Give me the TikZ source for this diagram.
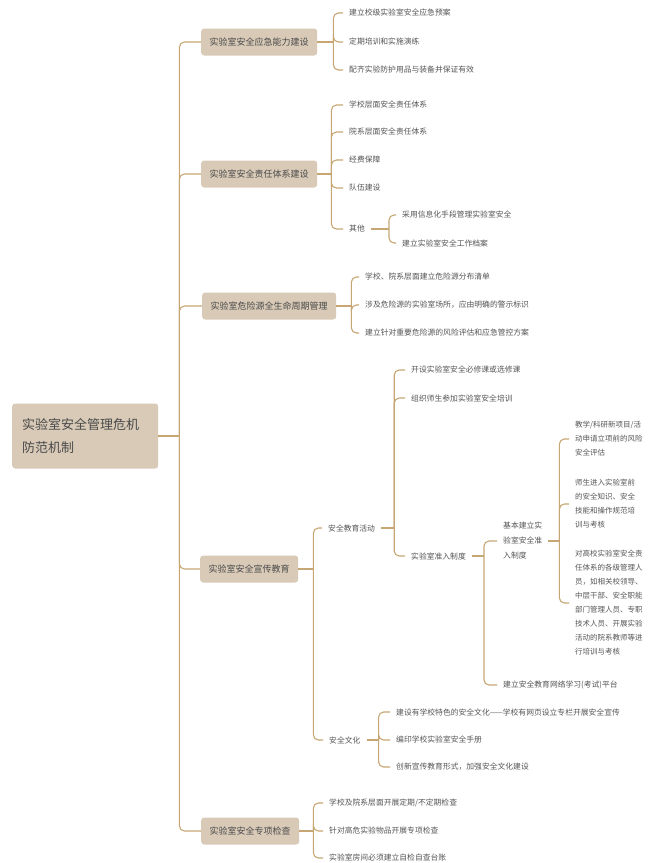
\documentclass[tikz,border=0pt]{standalone}
\usepackage{fontspec}
\setmainfont{Noto Sans CJK SC}
\definecolor{boxfill}{HTML}{D8CAB7}
\definecolor{linec}{HTML}{C6A673}
\definecolor{boxtext}{HTML}{4A4A4A}
\definecolor{leaftext}{HTML}{555555}
\begin{document}
\begin{tikzpicture}[x=1pt,y=-1pt,
  conn/.style={draw=linec,line width=1.1pt},
  bconn/.style={conn,rounded corners=5pt},
  topbox/.style={fill=boxfill,rounded corners=3pt,inner xsep=8.5pt,minimum height=27pt,font=\fontsize{9}{11}\selectfont,text=boxtext,anchor=west},
  leaf/.style={inner xsep=6pt,inner ysep=1pt,anchor=west,font=\fontsize{7.8}{14}\selectfont,text=leaftext,align=left},
  leafb/.style={leaf,font=\fontsize{7.8}{15}\selectfont},
  leafs/.style={leaf,font=\fontsize{7.5}{14}\selectfont}
]
\useasboundingbox (0,0) rectangle (656,863);

% root
\node[fill=boxfill,rounded corners=3pt,anchor=west,text width=126pt,inner xsep=10pt,minimum height=65pt,align=left,font=\fontsize{13}{23}\selectfont,text=boxtext] (root) at (12,436) {实验室安全管理危机\\防范机制};

% level 1
\node[topbox] (b1) at (201,42) {实验室安全应急能力建设};
\node[topbox] (b2) at (201,174) {实验室安全责任体系建设};
\node[topbox] (b3) at (202,306) {实验室危险源全生命周期管理};
\node[topbox] (b4) at (200,569) {实验室安全宣传教育};
\node[topbox] (b5) at (201,831) {实验室安全专项检查};

\draw[conn] (root.east) -- ++(21,0) coordinate (k0);
\foreach \b in {b1,b2,b3,b4,b5} \draw[bconn] (k0) |- (\b.west);

% branch 1
\node[leaf] (c11) at (343,13) {建立校级实验室安全应急预案};
\node[leaf] (c12) at (343,42) {定期培训和实施演练};
\node[leaf] (c13) at (343,70) {配齐实验防护用品与装备并保证有效};
\draw[conn] (b1.east) -- ++(16,0) coordinate (k1);
\foreach \c in {c11,c12,c13} \draw[bconn] (k1) |- (\c.west);

% branch 2
\node[leaf] (c21) at (343,105) {学校层面安全责任体系};
\node[leaf] (c22) at (343,132) {院系层面安全责任体系};
\node[leaf] (c23) at (343,160) {经费保障};
\node[leaf] (c24) at (343,188) {队伍建设};
\node[leaf] (c25) at (343,229) {其他};
\draw[conn] (b2.east) -- ++(14,0) coordinate (k2);
\foreach \c in {c21,c22,c23,c24,c25} \draw[bconn] (k2) |- (\c.west);

\node[leaf] (d1) at (396,215) {采用信息化手段管理实验室安全};
\node[leaf] (d2) at (396,243) {建立实验室安全工作档案};
\draw[conn] (c25.east) -- ++(18,0) coordinate (k25);
\foreach \c in {d1,d2} \draw[bconn] (k25) |- (\c.west);

% branch 3
\node[leaf] (c31) at (359,277) {学校、院系层面建立危险源分布清单};
\node[leaf] (c32) at (359,305) {涉及危险源的实验室场所，应由明确的警示标识};
\node[leaf] (c33) at (359,333) {建立针对重要危险源的风险评估和应急管控方案};
\draw[conn] (b3.east) -- ++(15,0) coordinate (k3);
\foreach \c in {c31,c32,c33} \draw[bconn] (k3) |- (\c.west);

% branch 4
\node[leaf] (e1) at (322,528) {安全教育活动};
\node[leaf] (e2) at (323,740) {安全文化};
\draw[conn] (b4.east) -- ++(15,0) coordinate (k4);
\foreach \c in {e1,e2} \draw[bconn] (k4) |- (\c.west);

\node[leaf] (f1) at (405,370) {开设实验室安全必修课或选修课};
\node[leaf] (f2) at (405,398) {组织师生参加实验室安全培训};
\node[leaf] (f3) at (405,556) {实验室准入制度};
\draw[conn] (e1.east) -- ++(13,0) coordinate (ke1);
\foreach \c in {f1,f2,f3} \draw[bconn] (ke1) |- (\c.west);

\node[leafb] (g1) at (497,541) {基本建立实\\验室安全准\\入制度};
\node[leaf] (g2) at (497,685) {建立安全教育网络学习(考试)平台};
\draw[conn] (f3.east) -- ++(12,0) coordinate (kf3);
\foreach \c in {g1,g2} \draw[bconn] (kf3) |- (\c.west);

\node[leafs] (h1) at (569,439) {教学/科研新项目/活\\动申请立项前的风险\\安全评估};
\node[leafs] (h2) at (569,504) {师生进入实验室前\\的安全知识、安全\\技能和操作规范培\\训与考核};
\node[leafs] (h3) at (569,603) {对高校实验室安全责\\任体系的各级管理人\\员，如相关校领导、\\中层干部、安全职能\\部门管理人员、专职\\技术人员、开展实验\\活动的院系教师等进\\行培训与考核};
\draw[conn] (g1.east) -- ++(11,0) coordinate (kg1);
\foreach \c in {h1,h2,h3} \draw[bconn] (kg1) |- (\c.west);

\node[leaf] (i1) at (390,712) {建设有学校特色的安全文化——学校有网页设立专栏开展安全宣传};
\node[leaf] (i2) at (390,740) {编印学校实验室安全手册};
\node[leaf] (i3) at (390,767) {创新宣传教育形式，加强安全文化建设};
\draw[conn] (e2.east) -- ++(12,0) coordinate (ke2);
\foreach \c in {i1,i2,i3} \draw[bconn] (ke2) |- (\c.west);

% branch 5
\node[leaf] (j1) at (323,803) {学校及院系层面开展定期/不定期检查};
\node[leaf] (j2) at (323,831) {针对高危实验物品开展专项检查};
\node[leaf] (j3) at (323,858) {实验室房间必须建立自检自查台账};
\draw[conn] (b5.east) -- ++(14,0) coordinate (k5);
\foreach \c in {j1,j2,j3} \draw[bconn] (k5) |- (\c.west);
\end{tikzpicture}
\end{document}
